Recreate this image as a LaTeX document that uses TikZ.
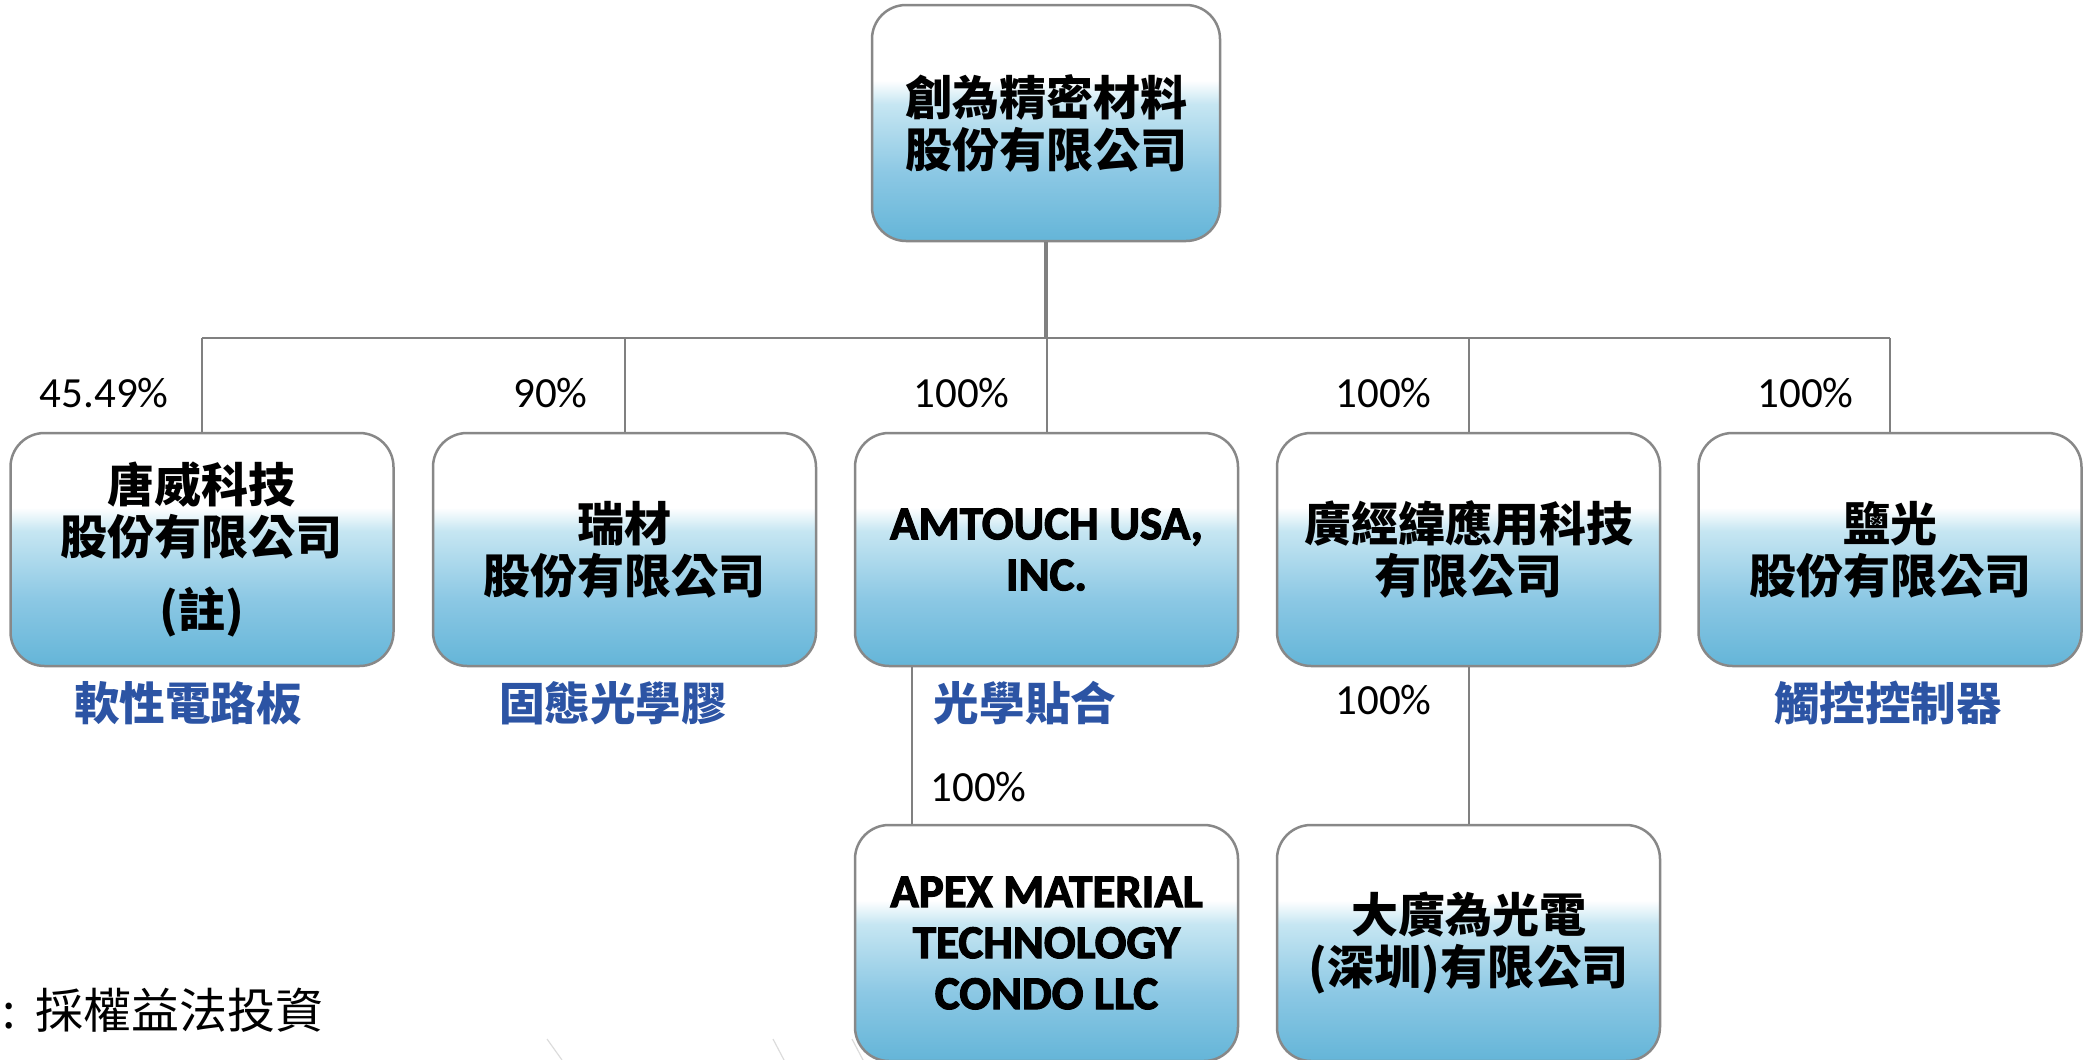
\documentclass[tikz,border=0pt]{standalone}
\usepackage{fontspec}
\setmainfont{Carlito}
\newfontfamily\latinb{Carlito Bold}[FakeBold=2.5]
\newfontfamily\cjk{Noto Sans CJK TC}
\definecolor{bbot}{RGB}{100,181,216}
\definecolor{bmid}{RGB}{140,200,228}
\definecolor{bhi}{RGB}{198,230,242}
\definecolor{lblue}{RGB}{44,84,164}
\definecolor{edgecol}{RGB}{136,136,136}
\definecolor{conncol}{RGB}{128,128,128}
\definecolor{faintcol}{RGB}{220,220,220}
\pgfdeclareverticalshading{boxshade}{100bp}{color(0bp)=(bbot); color(25bp)=(bbot); color(39.5bp)=(bmid); color(54bp)=(bhi); color(59bp)=(white); color(100bp)=(white)}
\tikzset{
  orgbox/.style={draw=edgecol, line width=1.25pt, rounded corners=17pt, shading=boxshade,
    minimum width=191.5pt, minimum height=116.5pt, inner sep=0pt, align=center,
    font=\cjk\bfseries\fontsize{23.5}{26}\selectfont},
  latinbox/.style={orgbox, font=\latinb\fontsize{23.5}{25.5}\selectfont},
  conn/.style={draw=conncol, line width=1pt},
  trunk/.style={draw=conncol, line width=2pt},
  pct/.style={font=\fontsize{21.5}{26}\selectfont, inner sep=0pt},
  prod/.style={font=\cjk\bfseries\fontsize{22.8}{26}\selectfont, text=lblue, inner sep=0pt},
  notetext/.style={font=\cjk\fontsize{24}{28}\selectfont, inner sep=0pt, anchor=west},
  faint/.style={draw=faintcol, line width=0.6pt}
}
\begin{document}
\begin{tikzpicture}[x=0.5pt, y=-0.5pt]
\useasboundingbox (0,0) rectangle (2084,1060);

% boxes
\node[orgbox, minimum width=174pt, minimum height=118pt] (top) at (1046,123) {創為精密材料\\股份有限公司};
\node[orgbox] (b1) at (202,549.5) {唐威科技\\股份有限公司\\[10.5pt](註)};
\node[orgbox] (b2) at (624.5,549.5) {瑞材\\股份有限公司};
\node[latinbox] (b3) at (1046.5,549.5) {AMTOUCH USA,\\INC.};
\node[orgbox] (b4) at (1468.5,549.5) {廣經緯應用科技\\有限公司};
\node[orgbox] (b5) at (1890,549.5) {鹽光\\股份有限公司};
\node[latinbox, minimum height=118pt] (c1) at (1046.5,943) {APEX MATERIAL\\TECHNOLOGY\\CONDO LLC};
\node[orgbox, minimum height=118pt] (c2) at (1468.5,943) {大廣為光電\\(深圳)有限公司};

% connectors
\coordinate (bus) at (0,338);
\coordinate (ax) at (912,0);
\draw[trunk] (top.south) -- (top.south |- bus);
\draw[conn] (b1.north |- bus) -- (b5.north |- bus);
\foreach \n in {b1,b2,b3,b4,b5} \draw[conn] (\n.north |- bus) -- (\n.north);
\draw[conn] (b3.south -| ax) -- (c1.north -| ax);
\draw[conn] (b4.south) -- (c2.north);

% percentages
\node[pct, anchor=east] (p1) at (169,393) {45.49\%};
\node[pct, anchor=east] (p2) at (588,393) {90\%};
\node[pct, anchor=east] (p3) at (1010,393) {100\%};
\node[pct, anchor=east] (p4) at (1432,393) {100\%};
\node[pct, anchor=east] (p5) at (1854,393) {100\%};
\node[pct, anchor=west] (p6) at (930,787) {100\%};
\node[pct, anchor=east] (p7) at (1432,700) {100\%};

% product labels
\node[prod] (l1) at (188,703) {軟性電路板};
\node[prod] (l2) at (613,703) {固態光學膠};
\node[prod] (l3) at (1025,703) {光學貼合};
\node[prod] (l4) at (1888,703) {觸控控制器};

% note
\node[notetext] (note) at (2,1010) {:\hspace{10pt}採權益法投資};

% faint slivers at the bottom edge
\draw[faint] (547,1039) -- (562,1060);
\draw[faint] (773,1039) -- (784,1060);
\draw[faint] (852,1039) -- (863,1060);
\end{tikzpicture}
\end{document}
